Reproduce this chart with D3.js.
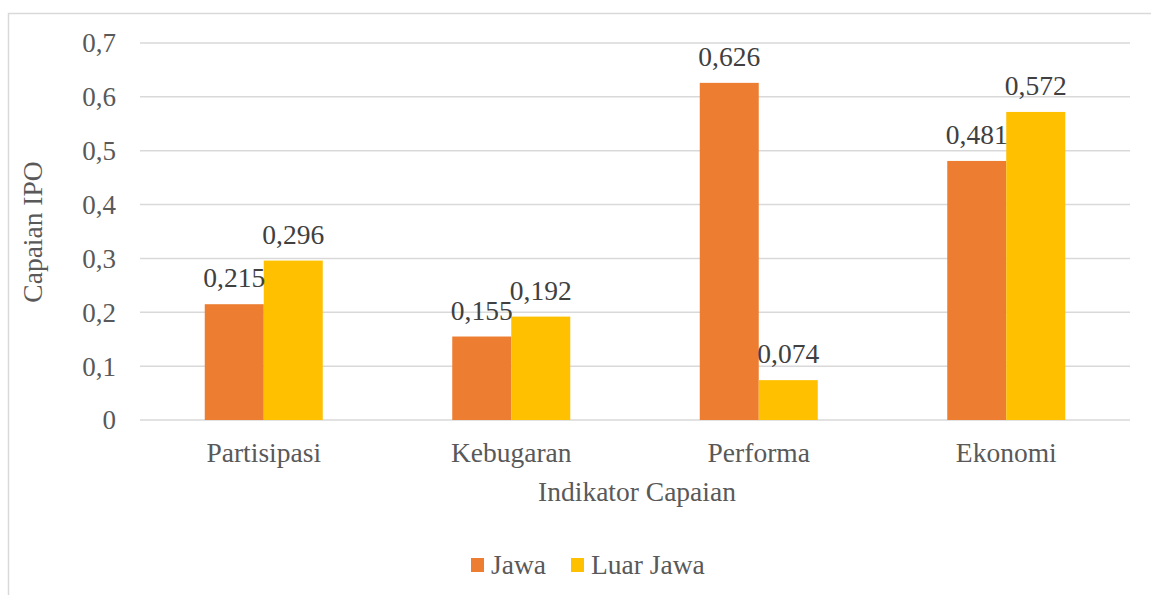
<!DOCTYPE html>
<html>
<head>
<meta charset="utf-8">
<script src="https://cdn.jsdelivr.net/npm/d3@7"></script>
<style>
  body { margin: 0; background: #fff; }
</style>
</head>
<body>
<script>
const categories = ["Partisipasi", "Kebugaran", "Performa", "Ekonomi"];
const seriesNames = ["Jawa", "Luar Jawa"];
const jawa = [0.215, 0.155, 0.626, 0.481];
const luarJawa = [0.296, 0.192, 0.074, 0.572];
const yTicks = [0, 0.1, 0.2, 0.3, 0.4, 0.5, 0.6, 0.7];
const colors = ["#ED7D31", "#FFC000"];

const width = 1151;
const height = 595;
const plotLeft = 140, plotRight = 1130, plotTop = 43, plotBottom = 420;
const serif = '"Liberation Serif", "Times New Roman", serif';

const fmt = v => String(v).replace(".", ",");

const svg = d3.select("body").append("svg")
    .attr("width", width)
    .attr("height", height)
    .style("font-family", serif);

// chart frame (only top and left edges visible)
svg.append("rect")
    .attr("x", 8.5).attr("y", 13.5)
    .attr("width", 1160).attr("height", 600)
    .attr("fill", "none")
    .attr("stroke", "#d9d9d9")
    .attr("stroke-width", 1.5);

const x = d3.scaleBand()
    .domain(categories)
    .range([plotLeft, plotRight])
    .paddingInner(1 - 118 / 247.5)
    .paddingOuter((1 - 118 / 247.5) / 2);

const xSub = d3.scaleBand()
    .domain(seriesNames)
    .range([0, x.bandwidth()]);

const y = d3.scaleLinear()
    .domain([0, 0.7])
    .range([plotBottom, plotTop]);

// gridlines
svg.append("g")
    .selectAll("line")
    .data(yTicks)
    .join("line")
    .attr("x1", plotLeft).attr("x2", plotRight)
    .attr("y1", d => y(d)).attr("y2", d => y(d))
    .attr("stroke", "#d9d9d9")
    .attr("stroke-width", 1.5);

// y tick labels
svg.append("g")
    .selectAll("text")
    .data(yTicks)
    .join("text")
    .attr("x", 116)
    .attr("y", d => y(d))
    .attr("dy", "0.35em")
    .attr("text-anchor", "end")
    .attr("fill", "#595959")
    .style("font-family", serif)
    .style("font-size", "27px")
    .text(d => fmt(d));

const rows = categories.map((c, i) => ({ cat: c, values: [jawa[i], luarJawa[i]] }));

const groups = svg.append("g")
    .selectAll("g")
    .data(rows)
    .join("g")
    .attr("transform", d => `translate(${x(d.cat)},0)`);

groups.selectAll("rect")
    .data(d => d.values.map((v, j) => ({ name: seriesNames[j], v, j })))
    .join("rect")
    .attr("x", d => xSub(d.name))
    .attr("y", d => y(d.v))
    .attr("width", xSub.bandwidth())
    .attr("height", d => y(0) - y(d.v))
    .attr("fill", d => colors[d.j]);

groups.selectAll("text")
    .data(d => d.values.map((v, j) => ({ name: seriesNames[j], v, j })))
    .join("text")
    .attr("x", d => xSub(d.name) + xSub.bandwidth() / 2)
    .attr("y", d => y(d.v) - 17)
    .attr("text-anchor", "middle")
    .attr("fill", "#404040")
    .style("font-family", serif)
    .style("font-size", "27.5px")
    .text(d => fmt(d.v));

// category labels
svg.append("g")
    .selectAll("text")
    .data(categories)
    .join("text")
    .attr("x", d => x(d) + x.bandwidth() / 2)
    .attr("y", 462)
    .attr("text-anchor", "middle")
    .attr("fill", "#595959")
    .style("font-family", serif)
    .style("font-size", "27.5px")
    .text(d => d);

// axis titles
svg.append("text")
    .attr("x", 637)
    .attr("y", 501)
    .attr("text-anchor", "middle")
    .attr("fill", "#595959")
    .style("font-family", serif)
    .style("font-size", "27.5px")
    .text("Indikator Capaian");

svg.append("text")
    .attr("transform", "translate(42,232) rotate(-90)")
    .attr("text-anchor", "middle")
    .attr("fill", "#595959")
    .style("font-family", serif)
    .style("font-size", "27.5px")
    .text("Capaian IPO");

// legend
const legendX = [471, 571];
const legend = svg.append("g")
    .selectAll("g")
    .data(seriesNames)
    .join("g")
    .attr("transform", (d, i) => `translate(${legendX[i]},558)`);

legend.append("rect")
    .attr("width", 13).attr("height", 14)
    .attr("fill", (d, i) => colors[i]);

legend.append("text")
    .attr("x", 20)
    .attr("y", 16)
    .attr("fill", "#595959")
    .style("font-family", serif)
    .style("font-size", "27.5px")
    .text(d => d);
</script>
</body>
</html>
